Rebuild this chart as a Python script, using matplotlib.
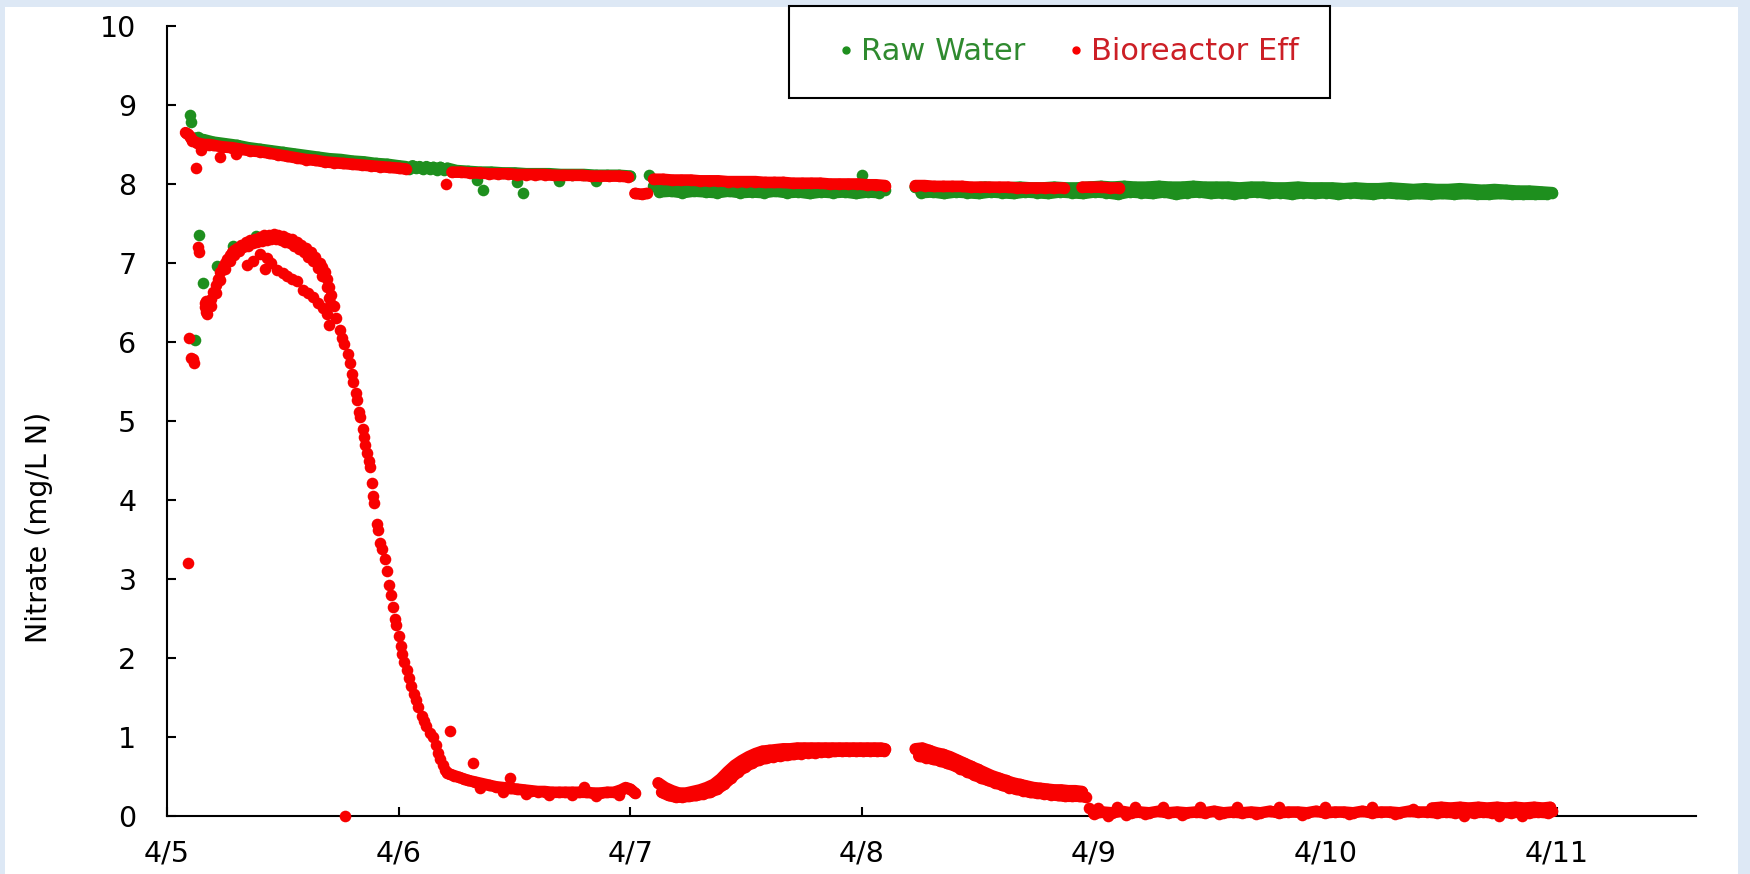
import matplotlib.pyplot as plt
from matplotlib.lines import Line2D
from matplotlib.patches import Rectangle

plt.rcParams['font.family'] = ['DejaVu Sans']

GREEN = '#1e8f1e'
RED = '#f80000'

day_labels = ['4/5', '4/6', '4/7', '4/8', '4/9', '4/10', '4/11']
y_ticks = [0, 1, 2, 3, 4, 5, 6, 7, 8, 9, 10]

# (days after 4/5 00:00, nitrate mg/L N)
# ---- Raw Water ----
raw_start = [(0.100, 8.87), (0.102, 8.78), (0.121, 6.03), (0.133, 8.60), (0.138, 7.35),
             (0.157, 6.75), (0.215, 6.96), (0.284, 7.22), (0.385, 7.34)]

raw_top1 = [(0.12, 8.58), (0.16, 8.56), (0.20, 8.53), (0.25, 8.51), (0.30, 8.49), (0.35, 8.46),
            (0.40, 8.44), (0.45, 8.42), (0.50, 8.40), (0.55, 8.38), (0.60, 8.36), (0.65, 8.34),
            (0.70, 8.32), (0.75, 8.31), (0.80, 8.29), (0.85, 8.28), (0.90, 8.26), (0.95, 8.25),
            (1.00, 8.23), (1.03, 8.22), (1.045, 8.19), (1.06, 8.23), (1.075, 8.20), (1.09, 8.22),
            (1.105, 8.19), (1.12, 8.22), (1.135, 8.19), (1.15, 8.21), (1.165, 8.18), (1.18, 8.21),
            (1.195, 8.18), (1.21, 8.20), (1.25, 8.17), (1.30, 8.16), (1.35, 8.15), (1.40, 8.15),
            (1.45, 8.14), (1.50, 8.14), (1.55, 8.13), (1.60, 8.13), (1.65, 8.13), (1.70, 8.12),
            (1.75, 8.12), (1.80, 8.12), (1.85, 8.11), (1.90, 8.11), (1.95, 8.11), (2.00, 8.10)]

raw_outliers = [(1.34, 8.05), (1.366, 7.92), (1.51, 8.02), (1.536, 7.88), (1.69, 8.04),
                (1.85, 8.04), (2.08, 8.12), (3.00, 8.12)]

raw_mid_a = [(2.10, 7.97), (2.15, 7.97), (2.20, 7.96), (2.25, 7.97), (2.30, 7.96), (2.35, 7.96),
             (2.40, 7.96), (2.45, 7.95), (2.50, 7.96), (2.55, 7.95), (2.60, 7.95), (2.65, 7.95),
             (2.70, 7.94), (2.75, 7.95), (2.80, 7.94), (2.85, 7.94), (2.90, 7.94), (2.95, 7.93),
             (3.00, 7.94), (3.05, 7.93), (3.10, 7.93)]
raw_mid_b = [(2.125, 7.90), (2.175, 7.91), (2.225, 7.89), (2.275, 7.91), (2.325, 7.90), (2.375, 7.89),
             (2.425, 7.91), (2.475, 7.89), (2.525, 7.90), (2.575, 7.89), (2.625, 7.91), (2.675, 7.89),
             (2.725, 7.90), (2.775, 7.88), (2.825, 7.90), (2.875, 7.89), (2.925, 7.90), (2.975, 7.88),
             (3.025, 7.90), (3.075, 7.89)]

raw_end_a = [(3.23, 7.96), (3.28, 7.96), (3.33, 7.95), (3.38, 7.96), (3.43, 7.96), (3.48, 7.95),
             (3.53, 7.96), (3.58, 7.95), (3.63, 7.95), (3.68, 7.96), (3.73, 7.95), (3.78, 7.95),
             (3.83, 7.96), (3.88, 7.95), (3.93, 7.95), (3.98, 7.96), (4.03, 7.97), (4.08, 7.96),
             (4.13, 7.97), (4.18, 7.96), (4.23, 7.96), (4.28, 7.97), (4.33, 7.96), (4.38, 7.96),
             (4.43, 7.97), (4.48, 7.96), (4.53, 7.96), (4.58, 7.96), (4.63, 7.95), (4.68, 7.96),
             (4.73, 7.96), (4.78, 7.95), (4.83, 7.95), (4.88, 7.96), (4.93, 7.95), (4.98, 7.95),
             (5.03, 7.95), (5.08, 7.94), (5.13, 7.95), (5.18, 7.94), (5.23, 7.94), (5.28, 7.95),
             (5.33, 7.94), (5.38, 7.93), (5.43, 7.94), (5.48, 7.93), (5.53, 7.93), (5.58, 7.94),
             (5.63, 7.93), (5.68, 7.92), (5.73, 7.93), (5.78, 7.92), (5.83, 7.91), (5.88, 7.91),
             (5.93, 7.90), (5.98, 7.89)]
raw_end_b = [(3.255, 7.89), (3.305, 7.90), (3.355, 7.88), (3.405, 7.90), (3.455, 7.89), (3.505, 7.88),
             (3.555, 7.90), (3.605, 7.89), (3.655, 7.88), (3.705, 7.90), (3.755, 7.89), (3.805, 7.88),
             (3.855, 7.90), (3.905, 7.89), (3.955, 7.88), (4.005, 7.90), (4.055, 7.89), (4.105, 7.87),
             (4.155, 7.90), (4.205, 7.89), (4.255, 7.88), (4.305, 7.90), (4.355, 7.87), (4.405, 7.89),
             (4.455, 7.90), (4.505, 7.88), (4.555, 7.89), (4.605, 7.87), (4.655, 7.89), (4.705, 7.90),
             (4.755, 7.88), (4.805, 7.89), (4.855, 7.87), (4.905, 7.89), (4.955, 7.88), (5.005, 7.89),
             (5.055, 7.87), (5.105, 7.89), (5.155, 7.88), (5.205, 7.87), (5.255, 7.89), (5.305, 7.88),
             (5.355, 7.87), (5.405, 7.88), (5.455, 7.87), (5.505, 7.88), (5.555, 7.87), (5.605, 7.88),
             (5.655, 7.87), (5.705, 7.87), (5.755, 7.88), (5.805, 7.87), (5.855, 7.87), (5.905, 7.87),
             (5.955, 7.87)]

# ---- Bioreactor Eff ----
eff_top_a = [(0.08, 8.65), (0.09, 8.63), (0.10, 8.60), (0.11, 8.55), (0.13, 8.52), (0.16, 8.50),
             (0.18, 8.50), (0.20, 8.49), (0.24, 8.47), (0.28, 8.46), (0.32, 8.44), (0.36, 8.42),
             (0.40, 8.41), (0.44, 8.39), (0.48, 8.37), (0.52, 8.35), (0.56, 8.33), (0.60, 8.31),
             (0.64, 8.30), (0.68, 8.28), (0.72, 8.27), (0.76, 8.26), (0.80, 8.25), (0.84, 8.24),
             (0.88, 8.23), (0.92, 8.22), (0.96, 8.21), (1.00, 8.20), (1.03, 8.19)]
eff_top_b = [(1.23, 8.15), (1.27, 8.15), (1.31, 8.14), (1.35, 8.14), (1.39, 8.13), (1.43, 8.13),
             (1.47, 8.13), (1.51, 8.12), (1.55, 8.12), (1.59, 8.12), (1.63, 8.12), (1.67, 8.11),
             (1.71, 8.11), (1.75, 8.11), (1.79, 8.11), (1.83, 8.10), (1.87, 8.10), (1.91, 8.10),
             (1.95, 8.10), (1.99, 8.09)]
eff_top_c = [(2.02, 7.88), (2.05, 7.87), (2.07, 7.88)]
eff_top_d = [(2.10, 8.06), (2.14, 8.06), (2.18, 8.05), (2.22, 8.05), (2.26, 8.05), (2.30, 8.04),
             (2.34, 8.04), (2.38, 8.04), (2.42, 8.03), (2.46, 8.03), (2.50, 8.03), (2.54, 8.03),
             (2.58, 8.02), (2.62, 8.02), (2.66, 8.02), (2.70, 8.01), (2.74, 8.01), (2.78, 8.01),
             (2.82, 8.01), (2.86, 8.00), (2.90, 8.00), (2.94, 8.00), (2.98, 8.00), (3.02, 7.99),
             (3.06, 7.99), (3.10, 7.98)]
eff_top_e = [(3.23, 7.98), (3.27, 7.98), (3.31, 7.97), (3.35, 7.97), (3.39, 7.97), (3.43, 7.97),
             (3.47, 7.96), (3.51, 7.96), (3.55, 7.96), (3.59, 7.96), (3.63, 7.96), (3.67, 7.95),
             (3.71, 7.95), (3.75, 7.95), (3.79, 7.95), (3.83, 7.95), (3.87, 7.95)]
eff_top_f = [(3.95, 7.96), (3.99, 7.96), (4.03, 7.96), (4.07, 7.95), (4.11, 7.95)]
eff_top_out = [(0.125, 8.20), (0.147, 8.43), (0.23, 8.34), (0.296, 8.38), (1.205, 8.00)]

eff_start = [(0.090, 3.20), (0.096, 6.05), (0.105, 5.80), (0.112, 5.78), (0.117, 5.74),
             (0.133, 7.20), (0.136, 7.14), (0.163, 6.50), (0.166, 6.44), (0.170, 6.38),
             (0.174, 6.36), (0.168, 6.52)]

eff_arc = [(0.18, 6.45), (0.19, 6.55), (0.20, 6.63), (0.21, 6.72), (0.22, 6.80), (0.23, 6.88),
           (0.24, 6.95), (0.25, 7.00), (0.26, 7.05), (0.27, 7.10), (0.28, 7.14), (0.29, 7.17),
           (0.30, 7.19), (0.32, 7.23), (0.34, 7.27), (0.36, 7.29), (0.38, 7.31), (0.40, 7.33),
           (0.42, 7.35), (0.44, 7.36), (0.46, 7.37), (0.48, 7.36), (0.50, 7.34), (0.52, 7.32),
           (0.54, 7.30), (0.56, 7.27), (0.58, 7.23), (0.60, 7.19), (0.62, 7.14), (0.64, 7.08),
           (0.66, 7.00), (0.67, 6.95), (0.68, 6.88), (0.69, 6.80), (0.70, 6.70), (0.71, 6.60),
           (0.72, 6.45), (0.73, 6.30), (0.745, 6.15), (0.755, 6.05), (0.765, 5.98), (0.78, 5.85),
           (0.79, 5.73), (0.80, 5.60), (0.805, 5.50), (0.815, 5.35), (0.82, 5.27), (0.83, 5.12),
           (0.835, 5.05), (0.845, 4.90), (0.85, 4.80), (0.855, 4.70), (0.865, 4.60), (0.87, 4.50),
           (0.878, 4.42), (0.885, 4.21), (0.89, 4.05), (0.895, 3.96), (0.905, 3.70), (0.91, 3.62),
           (0.92, 3.45), (0.93, 3.38)]
eff_arc_inner = [(0.19, 6.45), (0.21, 6.62), (0.23, 6.78), (0.25, 6.92), (0.27, 7.02), (0.29, 7.10),
                 (0.31, 7.15), (0.33, 7.20), (0.35, 7.22), (0.37, 7.25), (0.39, 7.27), (0.41, 7.28),
                 (0.43, 7.29), (0.45, 7.30), (0.47, 7.30), (0.49, 7.29), (0.51, 7.27), (0.53, 7.25),
                 (0.55, 7.22), (0.57, 7.18), (0.59, 7.14), (0.61, 7.08), (0.63, 7.02), (0.65, 6.94),
                 (0.67, 6.84), (0.69, 6.70), (0.70, 6.56), (0.71, 6.48)]
eff_arc_low = [(0.344, 6.97), (0.37, 7.02), (0.401, 7.12), (0.423, 6.93), (0.43, 7.06), (0.45, 7.00),
               (0.473, 6.91), (0.50, 6.87), (0.516, 6.83), (0.54, 6.80), (0.559, 6.77), (0.588, 6.66),
               (0.61, 6.62), (0.631, 6.57), (0.65, 6.50), (0.674, 6.43), (0.69, 6.35), (0.70, 6.22)]

eff_fall = [(0.94, 3.25), (0.95, 3.10), (0.96, 2.92), (0.965, 2.80), (0.975, 2.65), (0.985, 2.50),
            (0.99, 2.42), (1.00, 2.28), (1.01, 2.15), (1.015, 2.05), (1.025, 1.95), (1.035, 1.85),
            (1.045, 1.75), (1.055, 1.65), (1.065, 1.55), (1.075, 1.47), (1.085, 1.38), (1.10, 1.27),
            (1.11, 1.20), (1.12, 1.14), (1.135, 1.05), (1.15, 1.00), (1.16, 0.90), (1.17, 0.80),
            (1.18, 0.72), (1.19, 0.64), (1.20, 0.58)]
eff_floor = [(1.21, 0.55), (1.22, 0.53), (1.24, 0.51),
             (1.26, 0.49), (1.28, 0.47), (1.30, 0.45), (1.33, 0.43), (1.36, 0.41), (1.39, 0.39),
             (1.42, 0.37), (1.45, 0.36), (1.48, 0.35), (1.51, 0.34), (1.54, 0.33), (1.57, 0.32),
             (1.60, 0.31), (1.63, 0.31), (1.66, 0.30), (1.69, 0.30), (1.72, 0.30), (1.75, 0.30),
             (1.78, 0.30), (1.81, 0.30), (1.84, 0.29), (1.87, 0.29), (1.90, 0.30), (1.93, 0.30),
             (1.96, 0.33), (1.98, 0.36), (2.00, 0.34), (2.02, 0.29)]
eff_floor_b = [(1.35, 0.36), (1.45, 0.31), (1.55, 0.28), (1.65, 0.26), (1.75, 0.26), (1.85, 0.25),
               (1.95, 0.26)]
eff_outliers = [(0.77, 0.00), (1.22, 1.08), (1.32, 0.67), (1.48, 0.48), (1.80, 0.37)]

eff_mid_a = [(2.12, 0.42), (2.15, 0.36), (2.18, 0.32), (2.21, 0.29), (2.24, 0.29), (2.27, 0.31),
             (2.30, 0.33), (2.33, 0.36), (2.36, 0.40), (2.39, 0.47), (2.42, 0.56), (2.45, 0.64),
             (2.48, 0.70), (2.51, 0.75), (2.54, 0.79), (2.57, 0.82), (2.60, 0.83), (2.63, 0.84),
             (2.66, 0.85), (2.69, 0.85), (2.72, 0.86), (2.75, 0.86), (2.78, 0.86), (2.81, 0.86),
             (2.84, 0.86), (2.87, 0.86), (2.90, 0.86), (2.93, 0.86), (2.96, 0.86), (2.99, 0.86),
             (3.02, 0.86), (3.05, 0.86), (3.08, 0.86), (3.10, 0.85)]
eff_mid_b = [(2.135, 0.30), (2.165, 0.26), (2.195, 0.24), (2.225, 0.24), (2.255, 0.25), (2.285, 0.26),
             (2.315, 0.28), (2.345, 0.30), (2.375, 0.34), (2.405, 0.40), (2.435, 0.48), (2.465, 0.56),
             (2.495, 0.62), (2.525, 0.67), (2.555, 0.71), (2.585, 0.73), (2.615, 0.75), (2.645, 0.76),
             (2.675, 0.77), (2.705, 0.78), (2.735, 0.79), (2.765, 0.80), (2.795, 0.80), (2.825, 0.81),
             (2.855, 0.81), (2.885, 0.82), (2.915, 0.82), (2.945, 0.82), (2.975, 0.82), (3.005, 0.82),
             (3.035, 0.82), (3.065, 0.82), (3.095, 0.82)]

eff_tail_a = [(3.23, 0.85), (3.26, 0.86), (3.29, 0.83), (3.32, 0.80), (3.35, 0.78), (3.38, 0.75),
              (3.41, 0.71), (3.44, 0.67), (3.47, 0.63), (3.50, 0.59), (3.53, 0.55), (3.56, 0.51),
              (3.59, 0.48), (3.62, 0.45), (3.65, 0.42), (3.68, 0.40), (3.71, 0.38), (3.74, 0.36),
              (3.77, 0.35), (3.80, 0.34), (3.83, 0.33), (3.86, 0.33), (3.89, 0.32), (3.92, 0.32),
              (3.95, 0.31)]
eff_tail_b = [(3.245, 0.76), (3.275, 0.74), (3.305, 0.72), (3.335, 0.70), (3.365, 0.67), (3.395, 0.64),
              (3.425, 0.60), (3.455, 0.56), (3.485, 0.52), (3.515, 0.48), (3.545, 0.45), (3.575, 0.42),
              (3.605, 0.39), (3.635, 0.36), (3.665, 0.34), (3.695, 0.32), (3.725, 0.30), (3.755, 0.29),
              (3.785, 0.28), (3.815, 0.27), (3.845, 0.26), (3.875, 0.25), (3.905, 0.25), (3.935, 0.25),
              (3.965, 0.24)]

eff_low_a = [(4.00, 0.03), (4.04, 0.05), (4.08, 0.04), (4.12, 0.06), (4.16, 0.04),
             (4.20, 0.05), (4.24, 0.04), (4.28, 0.06), (4.32, 0.04), (4.36, 0.05), (4.40, 0.04),
             (4.44, 0.05), (4.48, 0.04), (4.52, 0.06), (4.56, 0.04), (4.60, 0.05), (4.64, 0.04),
             (4.68, 0.05), (4.72, 0.04), (4.76, 0.06), (4.80, 0.04), (4.84, 0.05), (4.88, 0.05),
             (4.92, 0.04), (4.96, 0.06), (5.00, 0.04), (5.04, 0.05), (5.08, 0.05), (5.12, 0.04),
             (5.16, 0.06), (5.20, 0.04), (5.24, 0.05), (5.28, 0.05), (5.32, 0.04), (5.36, 0.06),
             (5.40, 0.05), (5.44, 0.05), (5.48, 0.04), (5.52, 0.05), (5.56, 0.04), (5.60, 0.05),
             (5.64, 0.04), (5.68, 0.05), (5.72, 0.04), (5.76, 0.05), (5.80, 0.04), (5.84, 0.05),
             (5.88, 0.04), (5.92, 0.05), (5.96, 0.04), (5.98, 0.06)]
eff_low_c = [(5.46, 0.10), (5.50, 0.11), (5.54, 0.10), (5.58, 0.11), (5.62, 0.10),
             (5.66, 0.11), (5.70, 0.10), (5.74, 0.11), (5.78, 0.10), (5.82, 0.11), (5.86, 0.10),
             (5.90, 0.11), (5.94, 0.10), (5.97, 0.11)]
eff_low_b = [(3.98, 0.10), (4.02, 0.10), (4.06, 0.00), (4.10, 0.11), (4.14, 0.01), (4.18, 0.11),
             (4.22, 0.02), (4.30, 0.12), (4.38, 0.01), (4.46, 0.11), (4.54, 0.02), (4.62, 0.12),
             (4.70, 0.02), (4.80, 0.11), (4.90, 0.01), (5.00, 0.12), (5.10, 0.02), (5.20, 0.11),
             (5.30, 0.02), (5.38, 0.09), (5.60, 0.00), (5.75, 0.00), (5.85, 0.00)]

# segments dense enough in the original to read as solid bands
raw_bands = [raw_top1, raw_mid_a, raw_mid_b, raw_end_a, raw_end_b]
eff_bands = [eff_top_a, eff_top_b, eff_top_c, eff_top_d, eff_top_e, eff_top_f,
             eff_floor, eff_mid_a, eff_mid_b, eff_tail_a, eff_tail_b, eff_low_a, eff_low_c]


def unpack(*segments):
    pts = [p for seg in segments for p in seg]
    return [p[0] for p in pts], [p[1] for p in pts]


raw_t, raw_v = unpack(raw_start, raw_outliers, *raw_bands)
eff_t, eff_v = unpack(eff_top_out, eff_start, eff_arc, eff_arc_inner, eff_arc_low, eff_fall,
                      eff_floor_b, eff_outliers, eff_low_b, *eff_bands)

W, H = 1750, 874
MS = 70  # marker area, pt^2
fig = plt.figure(figsize=(W / 100, H / 100), dpi=100)
fig.patch.set_facecolor('#dde8f5')
fig.patches.append(Rectangle((5 / W, 0), (1738 - 5) / W, (H - 7) / H, transform=fig.transFigure,
                             facecolor='white', edgecolor='none', zorder=-5))

ax = fig.add_axes([167 / W, (H - 816) / H, (1696 - 167) / W, (816 - 26) / H])
ax.set_zorder(2)
ax.set_facecolor('none')

for seg in raw_bands:
    t, v = unpack(seg)
    ax.plot(t, v, color=GREEN, lw=MS ** 0.5, solid_capstyle='round', solid_joinstyle='round',
            clip_on=False, zorder=3)
ax.scatter(raw_t, raw_v, s=MS, color=GREEN, linewidths=0, clip_on=False, zorder=3)
for seg in eff_bands:
    t, v = unpack(seg)
    ax.plot(t, v, color=RED, lw=MS ** 0.5, solid_capstyle='round', solid_joinstyle='round',
            clip_on=False, zorder=4)
ax.scatter(eff_t, eff_v, s=MS, color=RED, linewidths=0, clip_on=False, zorder=4)

ax.set_xlim(0, 6.6)
ax.set_ylim(0, 10)
ax.set_xticks(range(len(day_labels)))
ax.set_xticklabels(day_labels)
ax.set_yticks(y_ticks)
for s in ['top', 'right']:
    ax.spines[s].set_visible(False)
for s in ['left', 'bottom']:
    ax.spines[s].set_linewidth(1.5)
ax.tick_params(axis='both', direction='in', length=6.5, width=1.5, labelsize=20.5)
ax.tick_params(axis='y', pad=22)
ax.tick_params(axis='x', pad=17)

fig.text(39 / W, 1 - 527 / H, 'Nitrate (mg/L N)', rotation=90, ha='center', va='center', fontsize=20.5)

handles = [Line2D([], [], marker='o', ls='none', color=GREEN, markersize=5, label='Raw Water'),
           Line2D([], [], marker='o', ls='none', color=RED, markersize=5, label='Bioreactor Eff')]
leg = ax.legend(handles=handles, ncol=2, loc='upper left', bbox_to_anchor=(789 / W, 1 - 6 / H),
                bbox_transform=fig.transFigure, frameon=True, fancybox=False, edgecolor='black',
                framealpha=1, fontsize=22, borderpad=1.03, handlelength=1.64, handletextpad=-0.31,
                columnspacing=0.82, labelcolor=['#2f8a2f', '#cc1f26'], borderaxespad=0)
leg.get_frame().set_linewidth(1.5)

fig.savefig('out.png', dpi=100)
